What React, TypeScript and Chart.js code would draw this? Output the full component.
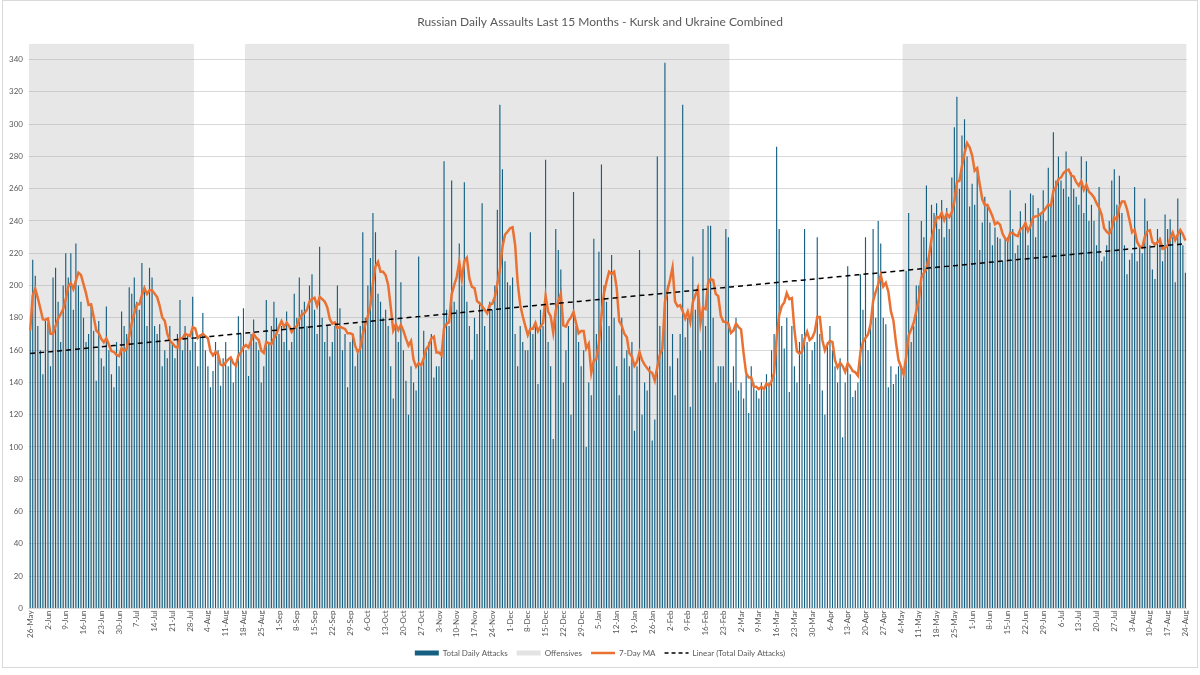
import { useEffect, useRef } from "react";
import { Chart, registerables } from "chart.js";

Chart.register(...registerables);

const TITLE = "Russian Daily Assaults Last 15 Months - Kursk and Ukraine Combined";
const START = { year: 2024, month: 4, day: 26 };
const MONTH_NAMES = ["Jan", "Feb", "Mar", "Apr", "May", "Jun", "Jul", "Aug", "Sep", "Oct", "Nov", "Dec"];

// Daily assault counts, one array per month
const attacksMay2024 = [172, 216, 206, 175, 160, 145];
const attacksJun2024 = [178, 177, 150, 205, 211, 190, 165, 200, 220, 205, 220, 185, 226, 200, 190, 180, 165, 170, 188, 172, 141, 178, 155, 150, 187, 160, 145, 137, 165, 150];
const attacksJul2024 = [184, 175, 170, 199, 195, 205, 190, 185, 214, 200, 175, 211, 205, 175, 170, 176, 150, 160, 155, 175, 165, 155, 170, 191, 160, 175, 170, 160, 193, 165, 150];
const attacksAug2024 = [170, 183, 160, 150, 137, 147, 165, 160, 138, 155, 165, 150, 155, 140, 150, 181, 170, 186, 160, 144, 170, 179, 165, 160, 140, 150, 191, 165, 175, 190, 180];
const attacksSep2024 = [170, 175, 165, 184, 160, 165, 195, 180, 205, 185, 190, 175, 200, 207, 185, 170, 224, 180, 165, 175, 156, 165, 175, 200, 186, 160, 170, 137, 165, 170];
const attacksOct2024 = [150, 160, 175, 233, 180, 200, 217, 245, 233, 195, 190, 180, 185, 175, 150, 130, 222, 165, 202, 160, 141, 120, 150, 140, 135, 218, 150, 172, 160, 165, 170];
const attacksNov2024 = [143, 150, 150, 160, 277, 185, 175, 265, 190, 185, 226, 200, 264, 190, 175, 154, 180, 170, 190, 251, 175, 160, 190, 185, 200, 247, 312, 272, 215, 202];
const attacksDec2024 = [200, 205, 170, 150, 175, 165, 160, 160, 233, 170, 175, 139, 185, 175, 278, 165, 150, 105, 235, 222, 210, 140, 160, 175, 120, 258, 175, 165, 150, 160, 100];
const attacksJan2025 = [140, 132, 229, 170, 221, 275, 200, 190, 175, 219, 180, 150, 132, 180, 155, 160, 150, 165, 110, 150, 222, 120, 140, 135, 150, 104, 117, 280, 175, 165, 338];
const attacksFeb2025 = [200, 150, 170, 132, 155, 170, 312, 168, 180, 125, 218, 185, 200, 160, 235, 175, 237, 237, 180, 140, 150, 150, 150, 235, 230, 140, 150, 180];
const attacksMar2025 = [135, 140, 130, 145, 121, 150, 140, 135, 130, 140, 135, 145, 140, 160, 170, 286, 235, 175, 161, 180, 134, 175, 150, 140, 165, 170, 235, 165, 139, 160, 165];
const attacksApr2025 = [230, 170, 135, 120, 165, 175, 160, 150, 140, 155, 106, 140, 212, 145, 131, 135, 140, 207, 185, 230, 160, 175, 235, 180, 240, 226, 180, 176, 137, 150];
const attacksMay2025 = [139, 145, 150, 150, 145, 209, 245, 165, 175, 200, 200, 240, 230, 262, 220, 250, 245, 251, 235, 253, 230, 248, 235, 267, 298, 317, 260, 293, 303, 280, 249];
const attacksJun2025 = [263, 250, 271, 222, 239, 255, 250, 239, 225, 236, 230, 229, 215, 230, 230, 259, 235, 220, 225, 246, 235, 251, 225, 257, 256, 230, 248, 245, 259, 240];
const attacksJul2025 = [273, 250, 295, 265, 280, 265, 260, 283, 255, 270, 260, 255, 250, 280, 245, 277, 240, 250, 240, 225, 261, 215, 218, 225, 240, 265, 272, 250, 268, 245, 225];
const attacksAug2025 = [207, 216, 220, 261, 215, 225, 220, 254, 240, 225, 210, 204, 235, 230, 215, 244, 235, 241, 230, 202, 254, 235, 225, 208];

// Offensive periods (shaded)
const offensivePeriods: [string, string][] = [
  ["2024-05-26", "2024-07-29"],
  ["2024-08-19", "2025-02-25"],
  ["2025-05-05", "2025-08-24"],
];

const MA_WINDOW = 7;
const LABEL_EVERY = 7;
const Y_MAX = 350;
const Y_STEP = 20;

const dailyAttacks = [
  ...attacksMay2024, ...attacksJun2024, ...attacksJul2024, ...attacksAug2024,
  ...attacksSep2024, ...attacksOct2024, ...attacksNov2024, ...attacksDec2024,
  ...attacksJan2025, ...attacksFeb2025, ...attacksMar2025, ...attacksApr2025,
  ...attacksMay2025, ...attacksJun2025, ...attacksJul2025, ...attacksAug2025,
];

const N = dailyAttacks.length;
const dates = dailyAttacks.map((_, i) => new Date(Date.UTC(START.year, START.month, START.day + i)));
const labels = dates.map((d) => `${d.getUTCDate()}-${MONTH_NAMES[d.getUTCMonth()]}`);
const isoDates = dates.map((d) => d.toISOString().slice(0, 10));

// Shaded spans as points on a hidden linear x axis aligned with the category bands
const offensiveData: { x: number; y: number | null }[] = [];
offensivePeriods.forEach(([a, b]) => {
  const s = isoDates.indexOf(a);
  const e = isoDates.indexOf(b);
  offensiveData.push({ x: s - 0.5, y: 1 }, { x: e + 0.5, y: 1 }, { x: e + 0.5, y: null });
});

const movingAverage = dailyAttacks.map((_, i) => {
  const s = Math.max(0, i - MA_WINDOW + 1);
  const win = dailyAttacks.slice(s, i + 1);
  return win.reduce((a, b) => a + b, 0) / win.length;
});

const linearTrend = (() => {
  let sx = 0, sy = 0, sxy = 0, sxx = 0;
  dailyAttacks.forEach((y, i) => {
    const x = i + 1;
    sx += x; sy += y; sxy += x * y; sxx += x * x;
  });
  const slope = (N * sxy - sx * sy) / (N * sxx - sx * sx);
  const icpt = (sy - slope * sx) / N;
  return dailyAttacks.map((_, i) => icpt + slope * (i + 1));
})();

const FONT = "Lato, 'Open Sans', 'DejaVu Sans', sans-serif";
const TEXT = "#595959";
const BLUE = "#156082";
const ORANGE = "#E97132";

export default function App() {
  const ref = useRef<HTMLCanvasElement | null>(null);

  useEffect(() => {
    document.body.style.margin = "0";
    document.body.style.background = "#ffffff";
    if (!ref.current) return;
    Chart.defaults.font.family = FONT;
    const chart = new Chart(ref.current, {
      data: {
        labels,
        datasets: [
          {
            type: "bar",
            label: "Total Daily Attacks",
            data: dailyAttacks,
            backgroundColor: BLUE,
            borderWidth: 0,
            barPercentage: 0.45,
            categoryPercentage: 1,
            grouped: false,
            order: 3,
            xAxisID: "x",
            yAxisID: "y",
          },
          {
            type: "line",
            label: "Offensives",
            data: offensiveData,
            xAxisID: "x2",
            yAxisID: "y2",
            backgroundColor: "rgba(170,170,170,0.28)",
            borderWidth: 0,
            borderColor: "rgba(0,0,0,0)",
            pointRadius: 0,
            fill: "origin",
            spanGaps: false,
            order: 4,
          },
          {
            type: "line",
            label: "7-Day MA",
            data: movingAverage,
            borderColor: ORANGE,
            borderWidth: 2.5,
            pointRadius: 0,
            fill: false,
            tension: 0,
            order: 2,
            xAxisID: "x",
            yAxisID: "y",
          },
          {
            type: "line",
            label: "Linear (Total Daily Attacks)",
            data: linearTrend,
            borderColor: "#000000",
            borderWidth: 1.5,
            borderDash: [5, 4],
            pointRadius: 0,
            fill: false,
            order: 1,
            xAxisID: "x",
            yAxisID: "y",
          },
        ],
      },
      options: {
        animation: false,
        responsive: true,
        maintainAspectRatio: false,
        layout: { padding: { left: 0, right: 0, top: 0, bottom: 0 } },
        plugins: {
          tooltip: { enabled: false },
          title: {
            display: true,
            text: TITLE,
            color: TEXT,
            font: { size: 12, weight: "normal", family: FONT },
            padding: { top: 14, bottom: 14 },
          },
          legend: {
            position: "bottom",
            onClick: () => {},
            labels: {
              usePointStyle: true,
              pointStyleWidth: 24,
              boxHeight: 5,
              padding: 9,
              color: TEXT,
              font: { size: 8, family: FONT },
              generateLabels: () => [
                { text: "Total Daily Attacks", fillStyle: BLUE, strokeStyle: BLUE, lineWidth: 0, pointStyle: "rect", hidden: false, datasetIndex: 0, fontColor: TEXT },
                { text: "Offensives", fillStyle: "#e3e3e3", strokeStyle: "#e3e3e3", lineWidth: 0, pointStyle: "rect", hidden: false, datasetIndex: 1, fontColor: TEXT },
                { text: "7-Day MA", fillStyle: ORANGE, strokeStyle: ORANGE, lineWidth: 2.5, pointStyle: "line", hidden: false, datasetIndex: 2, fontColor: TEXT },
                { text: "Linear (Total Daily Attacks)", fillStyle: "#000", strokeStyle: "#000", lineWidth: 1.5, lineDash: [4, 3], pointStyle: "line", hidden: false, datasetIndex: 3, fontColor: TEXT },
              ] as any,
            },
          },
        },
        scales: {
          x: {
            type: "category",
            offset: true,
            grid: { display: false, drawTicks: false },
            border: { display: true, color: "#d9d9d9" },
            ticks: {
              autoSkip: false,
              maxRotation: 90,
              minRotation: 90,
              padding: 2,
              color: TEXT,
              font: { size: 8, family: FONT },
              callback: (_v: any, i: number) => (i % LABEL_EVERY === 0 ? labels[i] : null),
            },
          },
          x2: {
            type: "linear",
            display: false,
            min: -0.5,
            max: N - 0.5,
            offset: false,
          },
          y: {
            min: 0,
            max: Y_MAX,
            grid: { color: "#d9d9d9", drawTicks: false },
            border: { display: false },
            ticks: {
              stepSize: Y_STEP,
              includeBounds: false,
              padding: 6,
              color: TEXT,
              font: { size: 8, family: FONT },
            },
          },
          y2: { display: false, min: 0, max: 1 },
        },
      } as any,
    });
    return () => chart.destroy();
  }, []);

  return (
    <div
      style={{
        position: "relative",
        width: 1196,
        height: 668,
        marginLeft: 2,
        border: "1px solid #d9d9d9",
        boxSizing: "border-box",
        background: "#fff",
      }}
    >
      <canvas ref={ref} />
    </div>
  );
}
